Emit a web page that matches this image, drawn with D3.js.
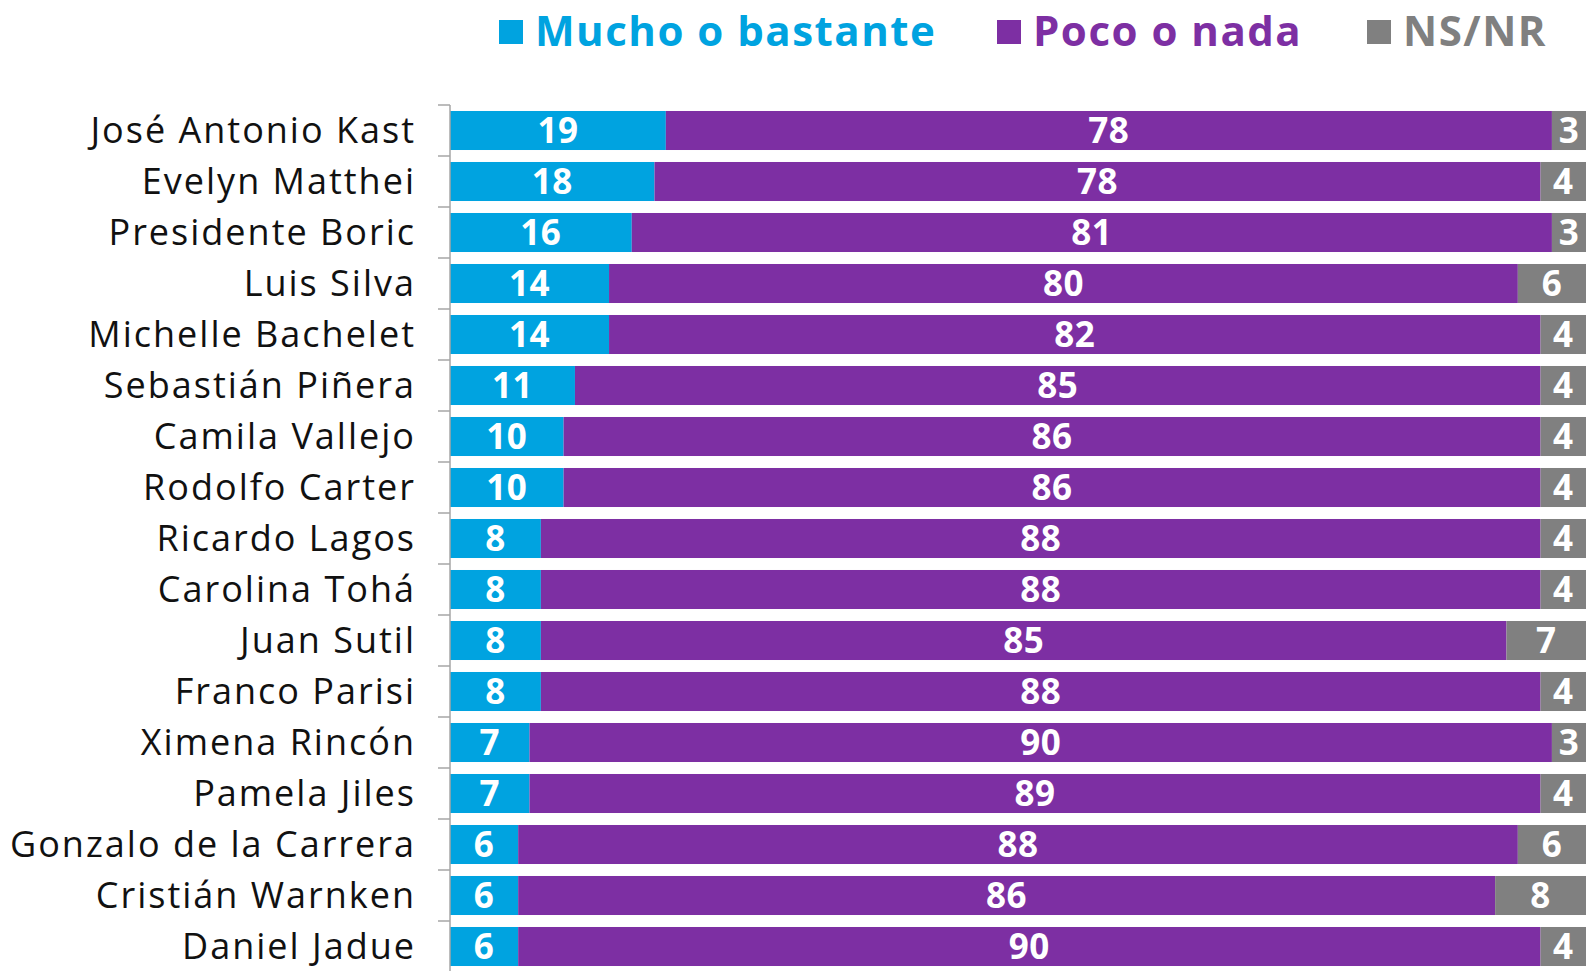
<!DOCTYPE html>
<html>
<head>
<meta charset="utf-8">
<script src="https://cdn.jsdelivr.net/npm/d3@7"></script>
<style>
  body { margin: 0; background: #fff; }
  svg { display: block; }
</style>
</head>
<body>
<div id="chart"></div>
<script>
// stacked horizontal bars: approval of political figures

// categories, top to bottom
var names = ["José Antonio Kast", "Evelyn Matthei", "Presidente Boric", "Luis Silva",
  "Michelle Bachelet", "Sebastián Piñera", "Camila Vallejo", "Rodolfo Carter",
  "Ricardo Lagos", "Carolina Tohá", "Juan Sutil", "Franco Parisi", "Ximena Rincón",
  "Pamela Jiles", "Gonzalo de la Carrera", "Cristián Warnken", "Daniel Jadue"];

// series values (percent)
var mucho = [19, 18, 16, 14, 14, 11, 10, 10, 8, 8, 8, 8, 7, 7, 6, 6, 6];
var poco  = [78, 78, 81, 80, 82, 85, 86, 86, 88, 88, 85, 88, 90, 89, 88, 86, 90];
var nsnr  = [3, 4, 3, 6, 4, 4, 4, 4, 4, 4, 7, 4, 3, 4, 6, 8, 4];

var seriesNames = ["Mucho o bastante", "Poco o nada", "NS/NR"];
var seriesColors = ["#00a3e0", "#7d2fa3", "#808080"];

var width = 1586, height = 971;
var plotLeft = 450, plotTop = 105, plotBottom = 972;

var svg = d3.select("#chart").append("svg")
  .attr("width", width)
  .attr("height", height);

// build table for stacking
var rows = names.map(function(n, i) {
  return { name: n, s0: mucho[i], s1: poco[i], s2: nsnr[i] };
});
var stack = d3.stack().keys(["s0", "s1", "s2"]);
var layers = stack(rows);

var xScale = d3.scaleLinear().domain([0, 100]).range([plotLeft, width]);
var yScale = d3.scaleBand().domain(names).range([plotTop, plotBottom])
  .paddingInner(0.235).paddingOuter(0.1175);

// bars
var layer = svg.selectAll("g.layer")
  .data(layers)
  .enter().append("g")
  .attr("class", "layer")
  .attr("fill", function(d, i) { return seriesColors[i]; });

layer.selectAll("rect")
  .data(function(d) { return d; })
  .enter().append("rect")
  .attr("x", function(d) { return xScale(d[0]); })
  .attr("y", function(d) { return yScale(d.data.name); })
  .attr("width", function(d) { return xScale(d[1]) - xScale(d[0]); })
  .attr("height", yScale.bandwidth());

// value labels
layer.selectAll("text")
  .data(function(d) { return d; })
  .enter().append("text")
  .attr("x", function(d) { return (xScale(d[0]) + xScale(d[1])) / 2; })
  .attr("y", function(d) { return yScale(d.data.name) + yScale.bandwidth() / 2; })
  .attr("dy", "0.36em")
  .attr("text-anchor", "middle")
  .attr("font-family", "'Open Sans', sans-serif")
  .attr("font-weight", "bold")
  .attr("font-size", "35px")
  .attr("letter-spacing", "0.5px")
  .attr("fill", "white")
  .text(function(d) { return d[1] - d[0]; });

// y axis: line with ticks at band edges
var step = yScale.step();
var edges = d3.range(names.length + 1).map(function(i) { return plotTop + i * step; });
svg.append("line")
  .attr("x1", plotLeft).attr("x2", plotLeft)
  .attr("y1", plotTop).attr("y2", height)
  .attr("stroke", "#a6a6a6").attr("stroke-width", 1.5);
svg.selectAll("line.tick")
  .data(edges)
  .enter().append("line")
  .attr("class", "tick")
  .attr("x1", plotLeft - 12).attr("x2", plotLeft)
  .attr("y1", function(d) { return d; })
  .attr("y2", function(d) { return d; })
  .attr("stroke", "#a6a6a6").attr("stroke-width", 1.5);

// category labels
svg.selectAll("text.cat")
  .data(names)
  .enter().append("text")
  .attr("class", "cat")
  .attr("x", 416)
  .attr("y", function(d) { return yScale(d) + yScale.bandwidth() / 2; })
  .attr("dy", "0.36em")
  .attr("text-anchor", "end")
  .attr("font-family", "'Open Sans', sans-serif")
  .attr("font-size", "36px")
  .attr("letter-spacing", "2px")
  .attr("fill", "#111")
  .text(function(d) { return d; });

// legend
var legendX = [499, 997, 1367];
var legend = svg.selectAll("g.legend")
  .data(seriesNames)
  .enter().append("g")
  .attr("class", "legend")
  .attr("transform", function(d, i) { return "translate(" + legendX[i] + ",0)"; });

legend.append("rect")
  .attr("x", 0).attr("y", 20)
  .attr("width", 24).attr("height", 24)
  .attr("fill", function(d, i) { return seriesColors[i]; });

legend.append("text")
  .attr("x", 36).attr("y", 46)
  .attr("font-family", "'Open Sans', sans-serif")
  .attr("font-weight", "bold")
  .attr("font-size", "42px")
  .attr("letter-spacing", "1.5px")
  .attr("fill", function(d, i) { return seriesColors[i]; })
  .text(function(d) { return d; });
</script>
</body>
</html>
